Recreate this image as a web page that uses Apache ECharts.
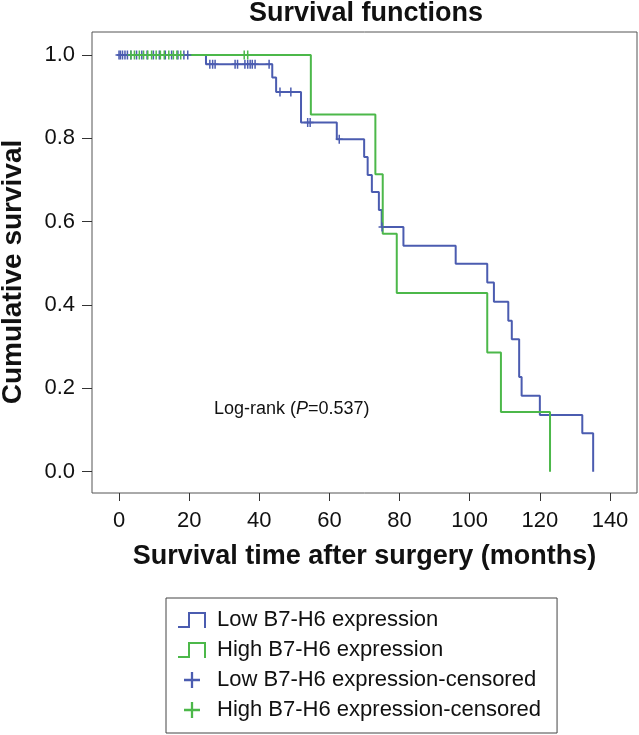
<!DOCTYPE html>
<html><head><meta charset="utf-8">
<script src="https://cdn.jsdelivr.net/npm/echarts@6/dist/echarts.min.js"></script>
<style>html,body{margin:0;padding:0;background:#fff}#c{width:639px;height:735px}</style>
</head><body><div id="c"></div>
<script>
// Kaplan-Meier step data (months, cumulative survival)
const lowTimes = [0, 24.8, 43.7, 44.8, 51.9, 62.1, 69.9, 70.9, 72.1, 74.1, 74.9, 81.1, 96.0, 105.0, 106.9, 111.0, 112.0, 114.1, 114.8, 120.0, 132.1, 135.2];
const lowSurv  = [1.0, 0.978, 0.946, 0.911, 0.838, 0.798, 0.755, 0.712, 0.671, 0.628, 0.587, 0.542, 0.499, 0.454, 0.408, 0.362, 0.318, 0.227, 0.182, 0.136, 0.092, 0];
const highTimes = [0, 54.7, 73.1, 75.2, 79.2, 105.0, 108.9, 122.9];
const highSurv  = [1.0, 0.857, 0.714, 0.571, 0.429, 0.286, 0.143, 0];
// censored times (months)
const lowCensored = [0, 0.4, 1.0, 1.7, 2.4, 3.4, 5.0, 6.5, 8.0, 9.8, 11.5, 13.2, 15.0, 16.8, 18.5, 19.6, 25.9, 26.7, 27.4, 33.1, 33.8, 35.9, 36.7, 37.4, 38.0, 38.8, 42.8, 45.9, 49.0, 53.8, 54.5, 62.8, 75.0];
const highCensored = [3.4, 4.4, 5.8, 7.0, 8.2, 9.3, 10.6, 11.8, 12.9, 14.2, 15.5, 16.5, 17.6, 35.7, 36.7];
// axis ticks
const xTicks = [0, 20, 40, 60, 80, 100, 120, 140];
const yTicks = [0, 0.2, 0.4, 0.6, 0.8, 1.0];
const seriesNames = ['Low B7-H6 expression', 'High B7-H6 expression', 'Low B7-H6 expression-censored', 'High B7-H6 expression-censored'];

const BLUE = '#4b5cb0', GREEN = '#4cb84a';
const FONT = "'Liberation Sans', Arial, Helvetica, sans-serif";

function survAt(times, surv, t) {
  let s = surv[0];
  for (let i = 0; i < times.length; i++) { if (times[i] <= t) s = surv[i]; }
  return s;
}
const lowLine = lowTimes.map((t, i) => [t, lowSurv[i]]);
const highLine = highTimes.map((t, i) => [t, highSurv[i]]);
const lowCens = lowCensored.map(t => [t, survAt(lowTimes, lowSurv, t)]);
const highCens = highCensored.map(t => [t, survAt(highTimes, highSurv, t)]);

const plusMark = 'path://M2.75,0 H4.25 V3.75 H7 V5.25 H4.25 V9 H2.75 V5.25 H0 V3.75 H2.75 Z';
const stepIcon = 'path://M0,14 L10,14 L10,0 L28,0 L28,16 L26,16 L26,2 L12,2 L12,16 L0,16 Z';
const plusIcon = 'path://M6,0 H8 V6 H14 V8 H8 V14 H6 V8 H0 V6 H6 Z';

const chart = echarts.init(document.getElementById('c'), null, {renderer: 'canvas'});
chart.setOption({
  animation: false,
  backgroundColor: '#fff',
  textStyle: {fontFamily: FONT},
  title: {
    text: 'Survival functions', left: 249, top: 0, padding: 0,
    textStyle: {fontSize: 27, fontWeight: 'bold', color: '#111', fontFamily: FONT}
  },
  grid: {left: 92, top: 32, right: 2, bottom: 242, show: true, borderColor: '#555', borderWidth: 1, containLabel: false},
  xAxis: {
    type: 'value', min: -7.7, max: 147.7,
    name: 'Survival time after surgery (months)', nameLocation: 'middle', nameGap: 50,
    nameTextStyle: {fontSize: 27, fontWeight: 'bold', color: '#111', fontFamily: FONT},
    axisLine: {show: false, onZero: false},
    axisTick: {show: true, customValues: xTicks, length: 8, lineStyle: {color: '#333'}},
    axisLabel: {show: true, customValues: xTicks, fontSize: 22, color: '#111', margin: 17, fontFamily: FONT},
    splitLine: {show: false}
  },
  yAxis: {
    type: 'value', min: -0.0511, max: 1.0552,
    axisLine: {show: false, onZero: false},
    axisTick: {show: true, customValues: yTicks, length: 10, lineStyle: {color: '#333'}},
    axisLabel: {show: true, customValues: yTicks, fontSize: 22, color: '#111', margin: 17, fontFamily: FONT,
      formatter: v => Number(v).toFixed(1)},
    splitLine: {show: false}
  },
  legend: {
    orient: 'vertical', left: 166, top: 598,
    padding: [11, 16, 12, 12], itemGap: 8, itemWidth: 30, itemHeight: 16,
    borderColor: '#444', borderWidth: 1, selectedMode: false,
    itemStyle: {borderWidth: 0},
    textStyle: {fontSize: 22, color: '#111', fontFamily: FONT, padding: [0, 0, 0, 5]},
    data: [
      {name: seriesNames[0], icon: stepIcon},
      {name: seriesNames[1], icon: stepIcon},
      {name: seriesNames[2], icon: plusIcon},
      {name: seriesNames[3], icon: plusIcon}
    ]
  },
  graphic: [
    {type: 'text', x: 13, y: 272, rotation: Math.PI / 2,
      style: {text: 'Cumulative survival', fontSize: 28, fontWeight: 'bold', fill: '#111', fontFamily: FONT,
        textAlign: 'center', textVerticalAlign: 'middle'}},
    {type: 'text', x: 214, y: 409,
      style: {text: '{a|Log-rank (}{b|P}{a|=0.537)}', textVerticalAlign: 'middle',
        rich: {a: {fontSize: 18, fill: '#111', fontFamily: FONT}, b: {fontSize: 18, fontStyle: 'italic', fill: '#111', fontFamily: FONT}}}}
  ],
  series: [
    {name: seriesNames[0], type: 'line', step: 'end', data: lowLine, symbol: 'none', showSymbol: false,
      lineStyle: {color: BLUE, width: 2}, itemStyle: {color: BLUE}, z: 2},
    {name: seriesNames[1], type: 'line', step: 'end', data: highLine, symbol: 'none', showSymbol: false,
      lineStyle: {color: GREEN, width: 2}, itemStyle: {color: GREEN}, z: 3},
    {name: seriesNames[2], type: 'scatter', data: lowCens, symbol: plusMark, symbolSize: [7, 9], symbolKeepAspect: false,
      itemStyle: {color: BLUE, opacity: 1}, z: 4},
    {name: seriesNames[3], type: 'scatter', data: highCens, symbol: plusMark, symbolSize: [7, 9], symbolKeepAspect: false,
      itemStyle: {color: GREEN, opacity: 1}, z: 5}
  ]
});
</script>
</body></html>
